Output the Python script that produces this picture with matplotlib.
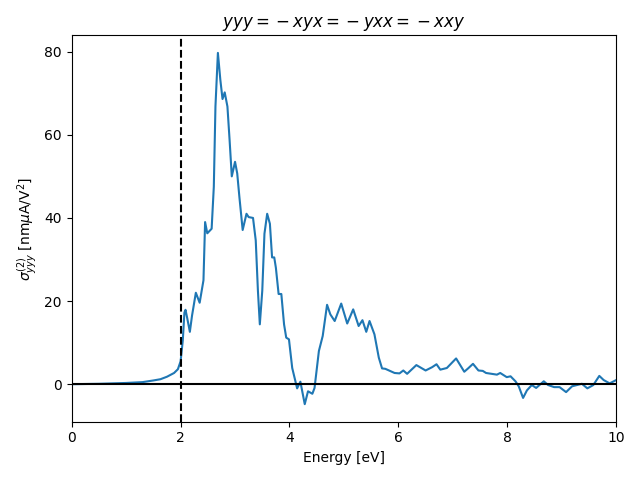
import numpy as np
import matplotlib
matplotlib.use('Agg')
import matplotlib.pyplot as plt

# photon energy [eV] and sigma_yyy [nm uA / V^2]
energy = [0.0, 0.5, 1.0, 1.3, 1.5, 1.63, 1.75, 1.88, 1.95, 2.0, 2.04, 2.07, 2.09,
          2.12, 2.17, 2.21, 2.28, 2.35, 2.42, 2.45, 2.49, 2.57, 2.61, 2.64,
          2.685, 2.73, 2.77, 2.81, 2.86, 2.90, 2.94, 3.0, 3.04, 3.08, 3.14,
          3.21, 3.25, 3.33, 3.38, 3.42, 3.455, 3.50, 3.54, 3.59, 3.64, 3.68,
          3.72, 3.75, 3.80, 3.85, 3.90, 3.94, 3.99,
          4.05, 4.14, 4.20, 4.28, 4.34, 4.42, 4.46, 4.54, 4.61, 4.69, 4.75,
          4.83, 4.95, 5.06, 5.17, 5.27, 5.34, 5.41, 5.47, 5.56, 5.64, 5.70,
          5.76, 5.93, 6.02, 6.09, 6.16, 6.33, 6.50, 6.62, 6.70, 6.77, 6.89,
          7.06, 7.21, 7.28, 7.37, 7.47, 7.55, 7.61, 7.81, 7.87, 7.99, 8.06,
          8.15, 8.21, 8.29, 8.36, 8.45, 8.53, 8.67, 8.75, 8.86, 8.96, 9.08,
          9.19, 9.37, 9.47, 9.58, 9.69, 9.77, 9.88, 10.0]
sigma = [0.0, 0.1, 0.3, 0.5, 0.9, 1.2, 1.8, 2.7, 3.6, 5.5, 10.5, 17.2, 17.9,
         16.0, 12.6, 16.5, 22.0, 19.6, 25.0, 39.0, 36.3, 37.4, 47.5, 66.8,
         79.7, 73.2, 68.6, 70.2, 66.8, 58.7, 50.0, 53.5, 50.7, 45.0, 37.1,
         41.0, 40.2, 40.0, 34.6, 22.5, 14.4, 22.5, 36.2, 41.0, 38.6, 30.5,
         30.5, 28.0, 21.7, 21.7, 14.4, 11.2, 10.8,
         3.9, -1.0, 0.6, -4.8, -1.7, -2.3, -0.9, 8.0, 11.6, 19.1, 16.8,
         15.2, 19.4, 14.6, 18.0, 14.0, 15.4, 12.6, 15.2, 12.0, 6.4, 3.8,
         3.7, 2.7, 2.6, 3.3, 2.5, 4.6, 3.3, 4.1, 4.8, 3.5, 3.9,
         6.2, 3.0, 3.8, 4.9, 3.3, 3.2, 2.7, 2.3, 2.7, 1.7, 1.9,
         0.7, -0.5, -3.3, -1.5, -0.2, -0.9, 0.7, -0.2, -0.7, -0.7, -1.9,
         -0.5, 0.1, -1.0, -0.2, 2.0, 1.0, 0.2, 1.0]

gap = 2.0

fig, ax = plt.subplots(figsize=(6.4, 4.8), dpi=100)
ax.plot(energy, sigma)
ax.axhline(0, color='k')
ax.axvline(gap, color='k', linestyle='--')
ax.set_xlim(0, 10)
ax.set_xlabel('Energy [eV]')
ax.set_ylabel(r'$\sigma^{(2)}_{yyy}$ [nm$\mu$A/V$^2$]')
# {} before the minus keeps the binary spacing of the original title
ax.set_title(r'$yyy = {}-xyx = {}-yxx = {}-xxy$')
fig.tight_layout()
fig.savefig('out.png')
